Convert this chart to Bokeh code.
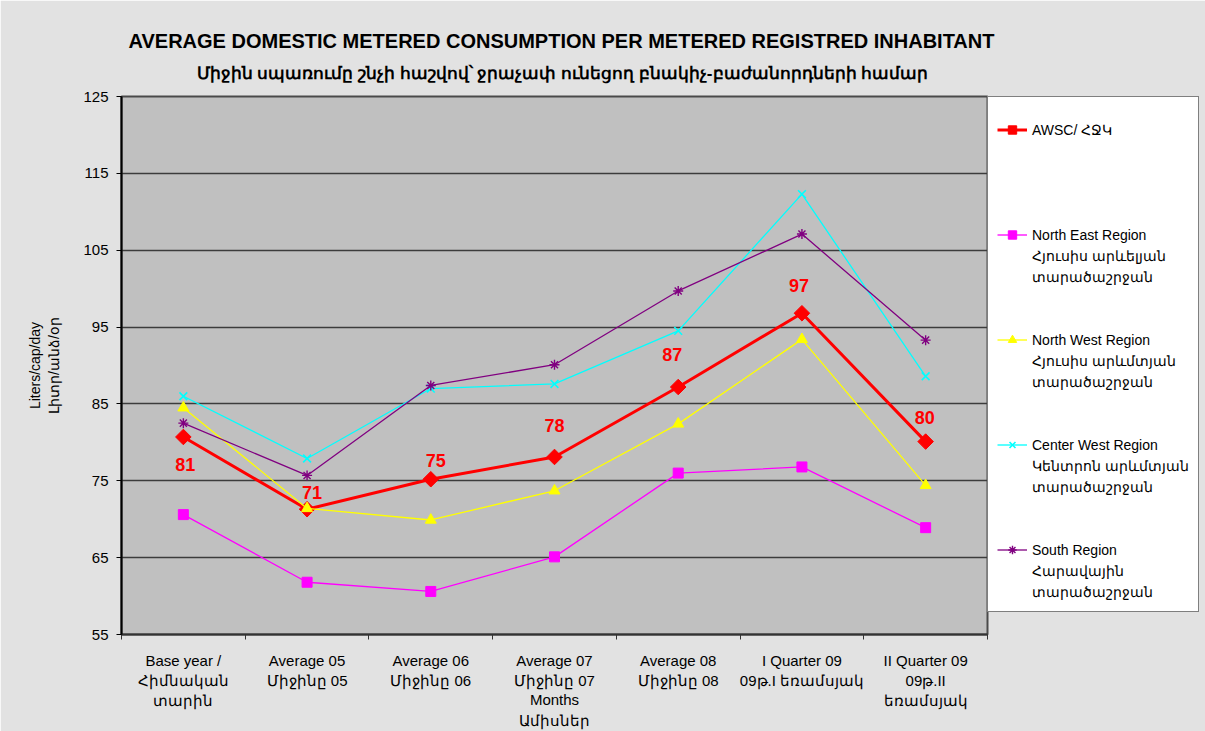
import math
from bokeh.plotting import figure
from bokeh.models import ColumnDataSource, FixedTicker, Legend, LegendItem, Range1d, Title
from bokeh.embed import file_html
from bokeh.resources import INLINE
from bokeh.core.properties import value

# ---- data ----
categories = [
    "Base year /\nՀիմնական\nտարին",
    "Average 05\nՄիջինը 05",
    "Average 06\nՄիջինը 06",
    "Average 07\nՄիջինը 07",
    "Average 08\nՄիջինը 08",
    "I Quarter 09\n09թ.I եռամսյակ",
    "II Quarter 09\n09թ.II\nեռամսյակ",
]
awsc = [80.7, 71.3, 75.2, 78.1, 87.2, 96.8, 80.1]
north_east = [70.6, 61.8, 60.6, 65.1, 76.0, 76.8, 68.9]
north_west = [84.5, 71.4, 69.9, 73.7, 82.4, 93.4, 74.4]
center_west = [86.0, 77.9, 87.0, 87.6, 94.5, 112.3, 88.6]
south = [82.5, 75.7, 87.4, 90.1, 99.7, 107.1, 93.3]
y_ticks = [55, 65, 75, 85, 95, 105, 115, 125]

title_en = "AVERAGE DOMESTIC METERED CONSUMPTION  PER METERED  REGISTRED INHABITANT"
title_am = "Միջին սպառումը շնչի հաշվով՝ ջրաչափ ունեցող բնակիչ-բաժանորդների համար"
y_label = "Liters/cap/day\nԼիտր/անձ/օր"
x_label = "Months\nԱմիսներ"

legend_lines = {
    "awsc": ["AWSC/ ՀՋԿ"],
    "ne": ["North East Region", "Հյուսիս արևելյան", "տարածաշրջան"],
    "nw": ["North West Region", "Հյուսիս արևմտյան", "տարածաշրջան"],
    "cw": ["Center West Region", "Կենտրոն արևմտյան", "տարածաշրջան"],
    "s": ["South Region", "Հարավային", "տարածաշրջան"],
}

FONT = "Liberation Sans"
n = len(categories)
xs = list(range(1, n + 1))

p = figure(
    title=None,
    frame_width=866, frame_height=538,
    x_range=Range1d(0.5, n + 0.5), y_range=Range1d(55, 125),
    output_backend="svg", toolbar_location=None,
    min_border_left=121, min_border_top=96, min_border_bottom=95, min_border_right=0,
    background_fill_color="#c0c0c0", border_fill_color="#e2e2e2",
)
p.outline_line_color = "#4a4a4a"
p.outline_line_width = 2

# grid
p.xgrid.visible = False
p.ygrid.ticker = FixedTicker(ticks=y_ticks)
p.ygrid.grid_line_color = "#3c3c3c"
p.ygrid.grid_line_width = 1.6

# y axis
p.yaxis.ticker = FixedTicker(ticks=y_ticks)
p.yaxis.axis_line_color = "black"
p.yaxis.axis_line_width = 2
p.yaxis.major_tick_in = 0
p.yaxis.major_tick_out = 5
p.yaxis.minor_tick_line_color = None
p.yaxis.major_label_text_font = FONT
p.yaxis.major_label_text_font_size = "15px"
p.yaxis.major_label_text_color = "black"
p.yaxis.major_label_standoff = 8
p.yaxis.axis_label = y_label
p.yaxis.axis_label_text_font = FONT
p.yaxis.axis_label_text_font_size = "14px"
p.yaxis.axis_label_text_font_style = "normal"
p.yaxis.axis_label_text_color = "black"
p.yaxis.axis_label_standoff = 18

# x axis
p.xaxis.ticker = FixedTicker(ticks=xs, minor_ticks=[i + 0.5 for i in range(n + 1)])
p.xaxis.major_label_overrides = {x: c for x, c in zip(xs, categories)}
p.xaxis.axis_line_color = "#333333"
p.xaxis.axis_line_width = 2
p.xaxis.major_tick_in = 0
p.xaxis.major_tick_out = 0
p.xaxis.minor_tick_in = 0
p.xaxis.minor_tick_out = 5
p.xaxis.minor_tick_line_color = "#333333"
p.xaxis.major_label_text_font = FONT
p.xaxis.major_label_text_font_size = "15px"
p.xaxis.major_label_text_color = "black"
p.xaxis.major_label_standoff = 12
p.xaxis.axis_label = x_label
p.xaxis.axis_label_text_font = FONT
p.xaxis.axis_label_text_font_size = "15px"
p.xaxis.axis_label_text_font_style = "normal"
p.xaxis.axis_label_text_color = "black"
p.xaxis.axis_label_standoff = -21

# series
def series(vals, color, lw, marker, size, mlw=1.0, angle=0.0):
    src = ColumnDataSource(dict(x=xs, y=vals))
    rl = p.line("x", "y", source=src, line_color=color, line_width=lw)
    rs = p.scatter("x", "y", source=src, marker=marker, size=size, angle=angle,
                   fill_color=color, line_color=color, line_width=mlw)
    return [rl, rs]

r_awsc = series(awsc, "#ff0000", 3, "square", 11, 1.0, math.pi / 4)
r_ne = series(north_east, "#ff00ff", 1.3, "square", 10)
r_nw = series(north_west, "#ffff00", 1.3, "triangle", 11)
r_cw = series(center_west, "#00ffff", 1.3, "x", 11, 1.6)
r_s = series(south, "#800080", 1.3, "asterisk", 10, 1.4)

# data labels for AWSC
lbl_dx = [2, 5, 5, 0, -6, -3, -1]
lbl_dy = [28, -17, -19, -31, -33, -28, -24]
lbl_src = ColumnDataSource(dict(x=xs, y=awsc, t=[str(round(v)) for v in awsc],
                                dx=lbl_dx, dy=lbl_dy))
p.text("x", "y", text="t", x_offset="dx", y_offset="dy", source=lbl_src,
       text_font=value(FONT), text_font_style="bold", text_font_size="18px",
       text_color="#ff0000", text_align="center", text_baseline="middle")

# titles (first added sits nearest the frame)
p.add_layout(Title(text=title_am, align="left", offset=75, text_font=FONT, text_font_size="17px",
                   text_font_style="bold", text_color="black", standoff=27), "above")
p.add_layout(Title(text=title_en, align="left", offset=7, text_font=FONT, text_font_size="20px",
                   text_font_style="bold", text_color="black", standoff=-6), "above")

# legend
items = []
groups = [("awsc", r_awsc, 4), ("ne", r_ne, 2), ("nw", r_nw, 2), ("cw", r_cw, 2), ("s", r_s, 0)]
for key, rends, nblank in groups:
    lines = legend_lines[key]
    items.append(LegendItem(label=lines[0], renderers=rends))
    for extra in lines[1:]:
        items.append(LegendItem(label=extra, renderers=[]))
    for _ in range(nblank):
        items.append(LegendItem(label=" ", renderers=[]))

legend = Legend(items=items, location="top_left", margin=0, padding=9, spacing=0,
                label_height=21, glyph_height=21, glyph_width=30, label_standoff=5,
                label_text_font=FONT, label_text_font_size="14px", label_text_color="black",
                border_line_color="black", border_line_width=1,
                background_fill_color="white", background_fill_alpha=1.0,
                title=" ", title_text_font_size="8px", title_standoff=4)
p.add_layout(legend, "right")

open("out.html", "w").write(file_html(p, INLINE))
